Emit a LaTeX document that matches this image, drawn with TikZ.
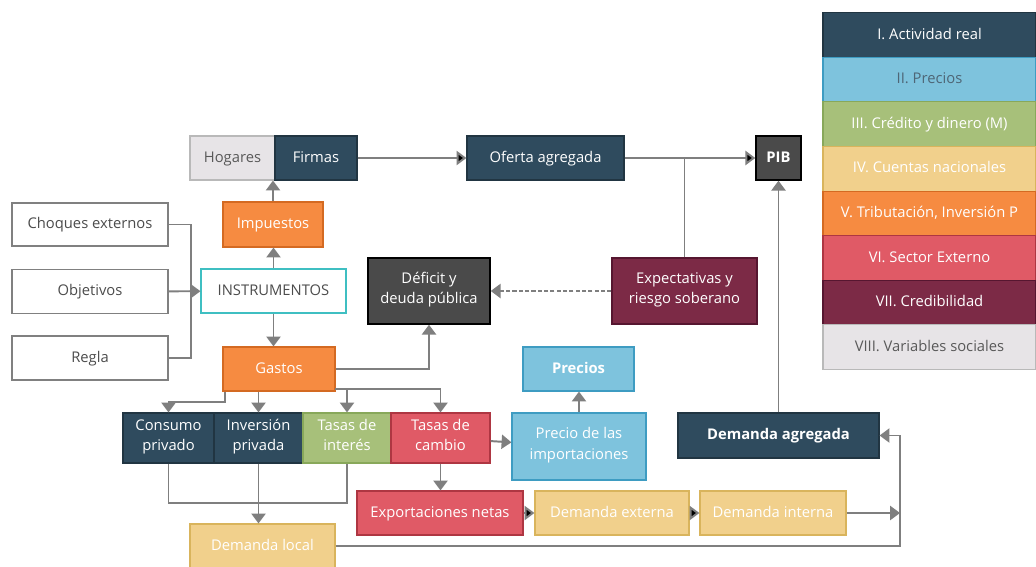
\documentclass[tikz,border=0pt]{standalone}
\usepackage{fontspec}
\setmainfont{Open Sans}
\usetikzlibrary{arrows.meta}

\definecolor{azul}{HTML}{2F4B5E}
\definecolor{celeste}{HTML}{7EC3DD}
\definecolor{celesteb}{HTML}{3E9CC2}
\definecolor{verde}{HTML}{A7C07A}
\definecolor{verdeb}{HTML}{88A85A}
\definecolor{arena}{HTML}{F1D08C}
\definecolor{arenab}{HTML}{D9B45C}
\definecolor{naranja}{HTML}{F68B41}
\definecolor{naranjab}{HTML}{D46A22}
\definecolor{rojo}{HTML}{E05A66}
\definecolor{rojob}{HTML}{AE3642}
\definecolor{vino}{HTML}{7C2A46}
\definecolor{vinob}{HTML}{561630}
\definecolor{gris}{HTML}{E7E4E7}
\definecolor{grisb}{HTML}{B9B9B9}
\definecolor{oscuro}{HTML}{4A4A4A}
\definecolor{turq}{HTML}{3FBFC2}
\definecolor{flecha}{HTML}{7F7F7F}

\begin{document}
\begin{tikzpicture}[x=0.025cm, y=-0.025cm,
	caja/.style={draw, line width=0.8pt, inner sep=0pt, align=center,
		font=\fontsize{10.5}{14.5}\selectfont, execute at begin node=\strut},
	real/.style={caja, fill=azul, draw=azul!70!black, text=white},
	precio/.style={caja, fill=celeste, draw=celesteb, text=white},
	credito/.style={caja, fill=verde, draw=verdeb, text=white},
	cuenta/.style={caja, fill=arena, draw=arenab, text=white},
	tribu/.style={caja, fill=naranja, draw=naranjab, text=white},
	externo/.style={caja, fill=rojo, draw=rojob, text=white},
	credib/.style={caja, fill=vino, draw=vinob, text=white},
	social/.style={caja, fill=gris, draw=grisb, text=black!65},
	blanca/.style={caja, fill=white, draw=black!50, text=black!70},
	total/.style={caja, fill=oscuro, draw=black, line width=1pt, text=white},
	linea/.style={draw=flecha, line width=1.4pt},
	flec/.style={linea, -{Triangle[width=10pt,length=7pt]}}
	]
	\useasboundingbox[fill=white] (0,0) rectangle (1036,566);

	% fila superior
	\node[social, minimum width=85*0.025cm, minimum height=44*0.025cm] (hog) at (232.5,158) {Hogares};
	\node[real, minimum width=82*0.025cm, minimum height=44*0.025cm] (fir) at (316,158) {Firmas};
	\node[real, minimum width=157*0.025cm, minimum height=44*0.025cm] (ofe) at (545.5,158) {Oferta agregada};
	\node[total, minimum width=45*0.025cm, minimum height=44*0.025cm] (pib) at (778.5,158) {\textbf{PIB}};

	% entradas
	\node[blanca, minimum width=156*0.025cm, minimum height=43*0.025cm] (cho) at (90,224.5) {Choques externos};
	\node[blanca, minimum width=156*0.025cm, minimum height=44*0.025cm] (obj) at (90,291.5) {Objetivos};
	\node[blanca, minimum width=156*0.025cm, minimum height=44*0.025cm] (reg) at (90,358) {Regla};

	\node[tribu, minimum width=100*0.025cm, minimum height=45*0.025cm] (imp) at (273,224.5) {Impuestos};
	\node[blanca, draw=turq, minimum width=145*0.025cm, minimum height=44*0.025cm] (ins) at (273.5,291) {INSTRUMENTOS};
	\node[tribu, minimum width=112*0.025cm, minimum height=44*0.025cm] (gas) at (279,369) {Gastos};

	\node[total, minimum width=122*0.025cm, minimum height=66*0.025cm] (def) at (429,291) {D\'eficit y\\deuda p\'ublica};
	\node[credib, minimum width=145*0.025cm, minimum height=66*0.025cm] (exp) at (684.5,291) {Expectativas y\\riesgo soberano};
	\node[precio, minimum width=111*0.025cm, minimum height=44*0.025cm] (pre) at (578.5,369) {\textbf{Precios}};

	% fila de componentes
	\node[real, minimum width=91*0.025cm, minimum height=50*0.025cm] (con) at (168.5,438) {Consumo\\privado};
	\node[real, minimum width=89*0.025cm, minimum height=50*0.025cm] (inv) at (258.5,438) {Inversi\'on\\privada};
	\node[credito, minimum width=88*0.025cm, minimum height=50*0.025cm] (tin) at (347,438) {Tasas de\\inter\'es};
	\node[externo, minimum width=99*0.025cm, minimum height=50*0.025cm] (tca) at (440.5,438) {Tasas de\\cambio};
	\node[precio, minimum width=134*0.025cm, minimum height=67*0.025cm] (imq) at (579,446.5) {Precio de las\\importaciones};
	\node[real, minimum width=201*0.025cm, minimum height=45*0.025cm] (dag) at (778.5,435.5) {\textbf{Demanda agregada}};

	% fila inferior
	\node[externo, minimum width=166*0.025cm, minimum height=44*0.025cm] (exn) at (440,513) {Exportaciones netas};
	\node[cuenta, minimum width=154*0.025cm, minimum height=44*0.025cm] (dex) at (612,513) {Demanda externa};
	\node[cuenta, minimum width=146*0.025cm, minimum height=44*0.025cm] (din) at (773,513) {Demanda interna};
	\node[cuenta, minimum width=145*0.025cm, minimum height=44*0.025cm] (dlo) at (262.5,546) {Demanda local};

	% leyenda
	\node[real, minimum width=213*0.025cm, minimum height=44.6*0.025cm] (l1) at (929.5,35) {I. Actividad real};
	\node[precio, text=azul!85, minimum width=213*0.025cm, minimum height=44.6*0.025cm] (l2) at (929.5,79.6) {II. Precios};
	\node[credito, minimum width=213*0.025cm, minimum height=44.6*0.025cm] (l3) at (929.5,124.2) {III. Cr\'edito y dinero (M)};
	\node[cuenta, minimum width=213*0.025cm, minimum height=44.6*0.025cm] (l4) at (929.5,168.8) {IV. Cuentas nacionales};
	\node[tribu, minimum width=213*0.025cm, minimum height=44.6*0.025cm] (l5) at (929.5,213.4) {V. Tributaci\'on, Inversi\'on P};
	\node[externo, minimum width=213*0.025cm, minimum height=44.6*0.025cm] (l6) at (929.5,258) {VI. Sector Externo};
	\node[credib, minimum width=213*0.025cm, minimum height=44.6*0.025cm] (l7) at (929.5,302.6) {VII. Credibilidad};
	\node[social, minimum width=213*0.025cm, minimum height=44.6*0.025cm] (l8) at (929.5,347.2) {VIII. Variables sociales};

	% puntos de quiebre
	\coordinate (ja) at (191,291.5);
	\coordinate (jb) at (225,402);
	\coordinate (jc) at (335,389);
	\coordinate (jd) at (347,503);
	\coordinate (je) at (900,546);

	% conectores
	\path[flec] (fir) edge (ofe);
	\path[flec] (ofe) edge (pib);
	\draw[linea] (exp.north) -- (exp.north |- ofe.east);
	\draw[flec, dashed, dash pattern=on 3pt off 1.5pt] (exp) -- (def);

	\draw[flec] (imp.north) -- (imp.north |- fir.south);
	\draw[flec] (ins.north) -- (ins.north |- imp.south);
	\draw[flec] (ins.south) -- (ins.south |- gas.north);

	\draw[linea] (cho.east) -| (ja);
	\draw[linea] (reg.east) -| (ja);
	\draw[flec] (obj) -- (ins);

	\draw[flec] (gas.east) -| (def.south);
	\draw[flec] (jb |- gas.south) -- (jb) -| (con.north);
	\draw[flec] (gas.south -| inv.north) -- (inv.north);
	\draw[flec] (jc) -| (tca.north);
	\draw[flec] (jc -| tin.north) -- (tin.north);

	\draw[flec] (tca) -- (imq);
	\draw[flec] (tca.south) -- (tca.south |- exn.north);
	\draw[flec] (imq.north) -- (imq.north |- pre.south);

	\draw[linea] (con.south) |- (jd) -- (tin.south);
	\draw[flec] (inv.south) -- (inv.south |- dlo.north);

	\path[flec] (exn) edge (dex);
	\path[flec] (dex) edge (din);
	\draw[flec] (din.east) -- (din.east -| je);
	\draw[flec] (dlo.east) -- (je) |- (dag.east);
	\draw[flec] (dag) -- (pib);

\end{tikzpicture}
\end{document}
